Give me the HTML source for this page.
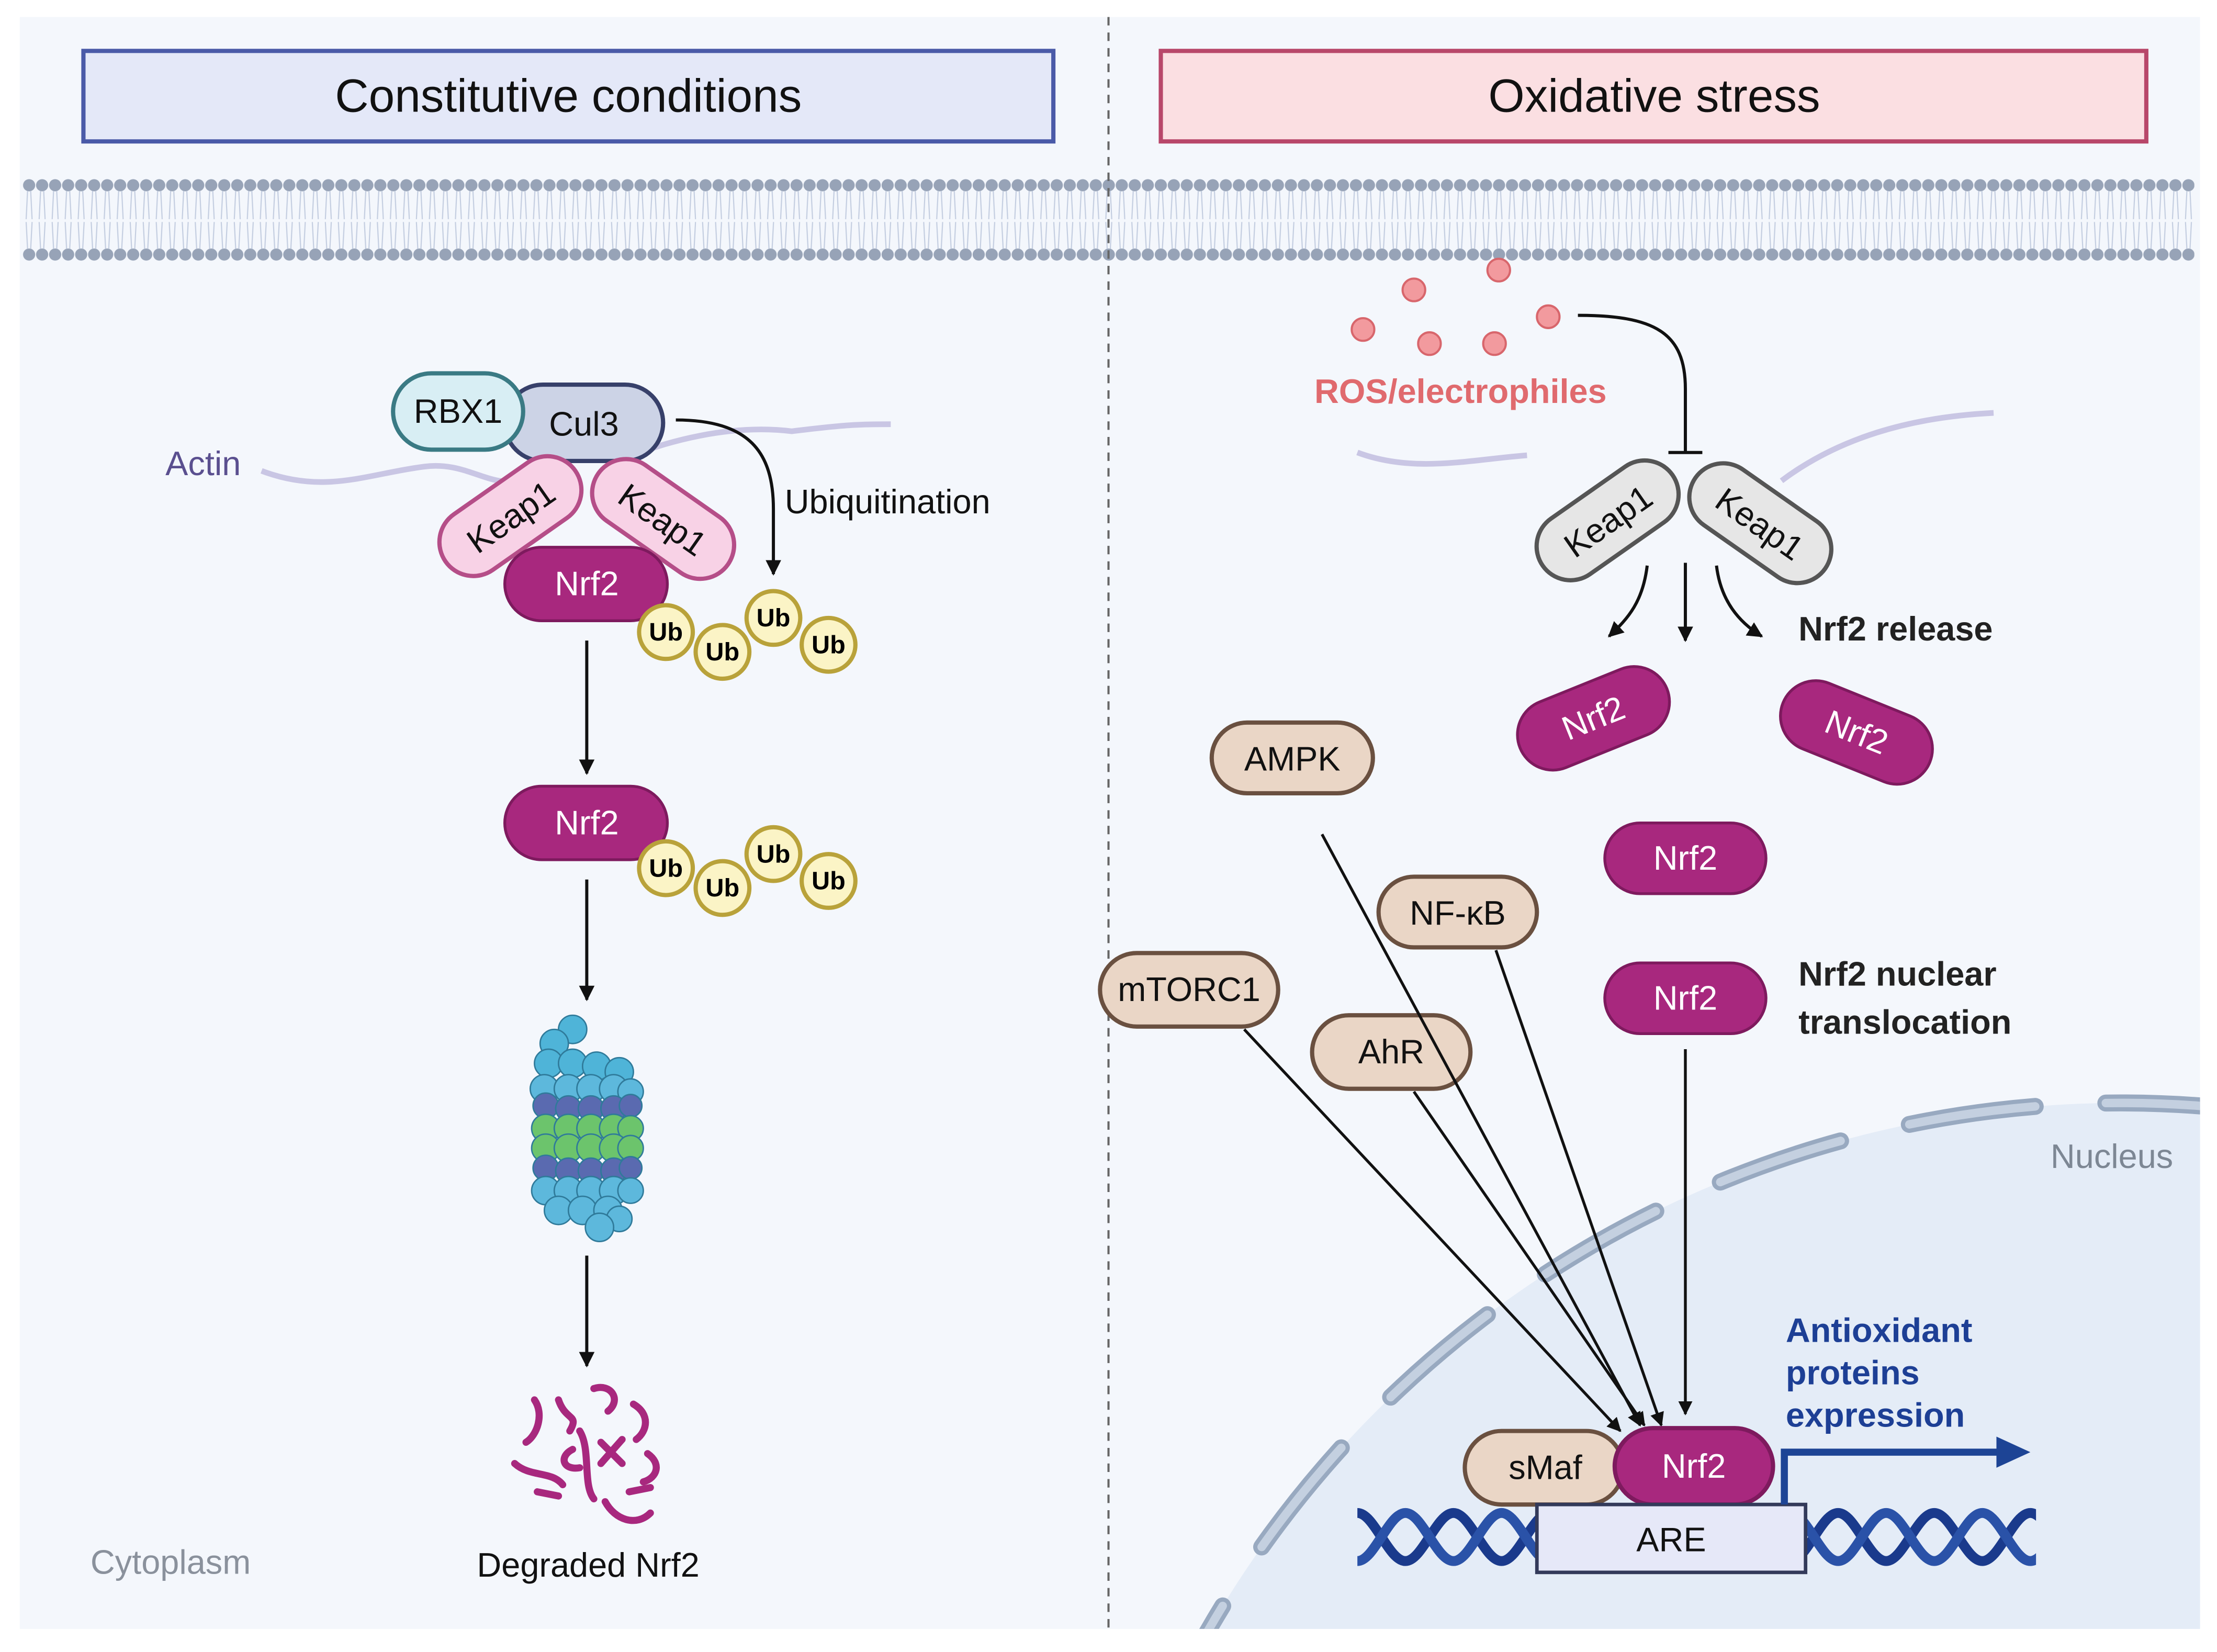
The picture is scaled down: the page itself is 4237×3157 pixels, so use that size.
<!DOCTYPE html>
<html><head><meta charset="utf-8"><style>
html,body{margin:0;padding:0;background:#fff;overflow:hidden;width:4237px;height:3157px}
svg{display:block}
text{font-family:"Liberation Sans",sans-serif}
</style></head><body>
<svg width="4237" height="3157" viewBox="0 0 1568 1168.3" xmlns="http://www.w3.org/2000/svg">
<defs>
<marker id="ah" viewBox="0 0 10 10" refX="9" refY="5" markerWidth="5" markerHeight="5" orient="auto-start-reverse"><path d="M0,0 L10,5 L0,10 z" fill="#111"/></marker>
<pattern id="lip" x="16" y="126" width="9.2" height="60" patternUnits="userSpaceOnUse">
<circle cx="4.6" cy="5" r="4.3" fill="#97a3b7"/>
<circle cx="4.6" cy="54" r="4.3" fill="#97a3b7"/>
<path d="M3.5,9 L2.5,29 M5.7,9 L6.7,29 M3.5,50 L2.5,31 M5.7,50 L6.7,31" stroke="#c3cde0" stroke-width="0.8"/>
</pattern>
<clipPath id="nclip"><rect x="14" y="12" width="1542" height="1140"/></clipPath>
<clipPath id="dclip"><rect x="960" y="1050" width="480" height="80"/></clipPath>
</defs>
<rect width="1568" height="1168.3" fill="#fff"/>
<rect x="14" y="12" width="1542" height="1140" fill="#f4f7fc"/>
<g clip-path="url(#nclip)">
<circle cx="1500" cy="1525" r="745" fill="#e4ecf7"/>
<circle cx="1500" cy="1525" r="745" fill="none" stroke="#98a9c0" stroke-width="12" stroke-linecap="round" stroke-dasharray="90,50"/>
<circle cx="1500" cy="1525" r="745" fill="none" stroke="#c4d0e0" stroke-width="6" stroke-linecap="round" stroke-dasharray="90,50"/>
</g>
<rect x="16" y="126" width="1536" height="60" fill="url(#lip)"/>
<line x1="784" y1="12" x2="784" y2="1152" stroke="#666" stroke-width="1.5" stroke-dasharray="6,5"/>
<rect x="59" y="36" width="686" height="64" fill="#e4e8f8" stroke="#4a5aa8" stroke-width="3"/>
<text x="402" y="79" font-size="33" text-anchor="middle" fill="#111">Constitutive conditions</text>
<rect x="821" y="36" width="697" height="64" fill="#fbdfe2" stroke="#b8476a" stroke-width="3"/>
<text x="1170" y="79" font-size="33" text-anchor="middle" fill="#111">Oxidative stress</text>

<path d="M185,333 C230,350 260,335 300,330 C330,326 345,345 370,340 M430,330 C470,310 520,300 560,305 C600,300 610,300 630,300" fill="none" stroke="#c9c6e4" stroke-width="4"/>
<text x="117" y="336" font-size="24" fill="#5a4f8f">Actin</text>
<rect x="357" y="272" width="112" height="54" rx="27" fill="#ccd3e6" stroke="#37406a" stroke-width="3"/>
<text x="413" y="308" font-size="24" text-anchor="middle" fill="#111">Cul3</text>
<rect x="278" y="264" width="92" height="54" rx="27" fill="#d8eef4" stroke="#3a7a84" stroke-width="3"/>
<text x="324" y="299" font-size="24" text-anchor="middle" fill="#111">RBX1</text>
<g transform="translate(361,365) rotate(-35)"><rect x="-56" y="-24" width="112" height="48" rx="24" fill="#f8d2e6" stroke="#b54e88" stroke-width="3"/><text x="0" y="9" font-size="24" text-anchor="middle" fill="#111">Keap1</text></g>
<g transform="translate(469,367) rotate(35)"><rect x="-56" y="-24" width="112" height="48" rx="24" fill="#f8d2e6" stroke="#b54e88" stroke-width="3"/><text x="0" y="9" font-size="24" text-anchor="middle" fill="#111">Keap1</text></g>
<rect x="357" y="387" width="115" height="52" rx="26" fill="#a8287e" stroke="#7e1a5e" stroke-width="2"/>
<text x="415" y="421" font-size="24" text-anchor="middle" fill="#fff">Nrf2</text>
<path d="M478,297 C530,297 547,320 547,360 L547,406" fill="none" stroke="#111" stroke-width="2.2" marker-end="url(#ah)"/>
<text x="555" y="363" font-size="24" fill="#111">Ubiquitination</text>
<g id="ub" font-size="18" font-weight="bold" text-anchor="middle">
<g fill="#fbf4c6" stroke="#b9a23a" stroke-width="3">
<circle cx="471" cy="447" r="19"/><circle cx="511" cy="461" r="19"/><circle cx="547" cy="437" r="19"/><circle cx="586" cy="456" r="19"/>
</g>
<text x="471" y="453">Ub</text><text x="511" y="467">Ub</text><text x="547" y="443">Ub</text><text x="586" y="462">Ub</text>
</g>
<line x1="415" y1="453" x2="415" y2="547" stroke="#111" stroke-width="2.2" marker-end="url(#ah)"/>
<rect x="357" y="556" width="115" height="52" rx="26" fill="#a8287e" stroke="#7e1a5e" stroke-width="2"/>
<text x="415" y="590" font-size="24" text-anchor="middle" fill="#fff">Nrf2</text>
<use href="#ub" transform="translate(0,167)"/>
<line x1="415" y1="622" x2="415" y2="707" stroke="#111" stroke-width="2.2" marker-end="url(#ah)"/>
<g stroke="#2f7a9a" stroke-width="1">
<g fill="#4fb4d8"><circle cx="405" cy="728" r="10"/><circle cx="392" cy="738" r="10"/><circle cx="388" cy="752" r="10"/><circle cx="405" cy="752" r="10"/><circle cx="422" cy="754" r="10"/><circle cx="438" cy="758" r="10"/></g>
<g fill="#5db8dc"><circle cx="385" cy="770" r="10"/><circle cx="402" cy="770" r="10"/><circle cx="418" cy="770" r="10"/><circle cx="434" cy="770" r="10"/><circle cx="446" cy="772" r="9"/></g>
<g fill="#5a6ab0"><circle cx="386" cy="782" r="9"/><circle cx="402" cy="784" r="9"/><circle cx="418" cy="784" r="9"/><circle cx="434" cy="784" r="9"/><circle cx="446" cy="782" r="8"/></g>
<g fill="#6cc46c"><circle cx="386" cy="798" r="10"/><circle cx="402" cy="798" r="10"/><circle cx="418" cy="798" r="10"/><circle cx="434" cy="798" r="10"/><circle cx="446" cy="798" r="9"/>
<circle cx="386" cy="812" r="10"/><circle cx="402" cy="812" r="10"/><circle cx="418" cy="812" r="10"/><circle cx="434" cy="812" r="10"/><circle cx="446" cy="812" r="9"/></g>
<g fill="#5a6ab0"><circle cx="386" cy="826" r="9"/><circle cx="402" cy="828" r="9"/><circle cx="418" cy="828" r="9"/><circle cx="434" cy="828" r="9"/><circle cx="446" cy="826" r="8"/></g>
<g fill="#5db8dc"><circle cx="386" cy="842" r="10"/><circle cx="402" cy="842" r="10"/><circle cx="418" cy="842" r="10"/><circle cx="434" cy="842" r="10"/><circle cx="446" cy="842" r="9"/>
<circle cx="395" cy="856" r="10"/><circle cx="412" cy="856" r="10"/><circle cx="430" cy="856" r="10"/><circle cx="438" cy="862" r="9"/><circle cx="424" cy="868" r="10"/></g>
</g>
<line x1="415" y1="888" x2="415" y2="966" stroke="#111" stroke-width="2.2" marker-end="url(#ah)"/>
<g fill="none" stroke="#a8287e" stroke-width="5" stroke-linecap="round">
<path d="M378,990 C385,1000 380,1015 372,1020"/><path d="M395,990 C400,1005 410,1000 403,1012"/><path d="M420,982 C432,978 440,990 430,998"/><path d="M448,993 C460,1000 458,1012 450,1018"/>
<path d="M364,1035 C375,1045 390,1040 398,1050"/><path d="M405,1025 C395,1030 398,1040 410,1038"/><path d="M425,1020 L440,1035 M440,1018 L425,1035"/><path d="M458,1028 C468,1035 465,1045 455,1048"/>
<path d="M380,1055 L395,1058"/><path d="M428,1062 C435,1075 450,1080 460,1070"/><path d="M445,1055 L460,1052"/><path d="M410,1012 C418,1025 412,1050 420,1060"/>
</g>
<text x="416" y="1115" font-size="24" text-anchor="middle" fill="#111">Degraded Nrf2</text>
<text x="64" y="1113" font-size="24" fill="#8a919c">Cytoplasm</text>

<g fill="#f29a9e" stroke="#d8666c" stroke-width="1.5">
<circle cx="1060" cy="191" r="8"/><circle cx="1000" cy="205" r="8"/><circle cx="1095" cy="224" r="8"/><circle cx="964" cy="233" r="8"/><circle cx="1011" cy="243" r="8"/><circle cx="1057" cy="243" r="8"/>
</g>
<text x="1033" y="285" font-size="24" font-weight="bold" text-anchor="middle" fill="#e06a6e">ROS/electrophiles</text>
<path d="M1116,223 C1170,223 1192,235 1192,275 L1192,320" fill="none" stroke="#111" stroke-width="2.2"/>
<line x1="1180" y1="320" x2="1204" y2="320" stroke="#111" stroke-width="2.2"/>
<path d="M960,320 C1000,335 1040,325 1080,322 M1260,340 C1300,310 1350,295 1410,292" fill="none" stroke="#c9c6e4" stroke-width="4"/>
<g transform="translate(1137,368) rotate(-35)"><rect x="-56" y="-24" width="112" height="48" rx="24" fill="#e6e6e6" stroke="#555" stroke-width="3"/><text x="0" y="9" font-size="24" text-anchor="middle" fill="#111">Keap1</text></g>
<g transform="translate(1245,370) rotate(35)"><rect x="-56" y="-24" width="112" height="48" rx="24" fill="#e6e6e6" stroke="#555" stroke-width="3"/><text x="0" y="9" font-size="24" text-anchor="middle" fill="#111">Keap1</text></g>
<path d="M1165,400 C1162,425 1152,437 1138,450" fill="none" stroke="#111" stroke-width="2.2" marker-end="url(#ah)"/>
<line x1="1192" y1="398" x2="1192" y2="453" stroke="#111" stroke-width="2.2" marker-end="url(#ah)"/>
<path d="M1214,400 C1217,425 1230,440 1246,450" fill="none" stroke="#111" stroke-width="2.2" marker-end="url(#ah)"/>
<text x="1272" y="453" font-size="24" font-weight="bold" fill="#222">Nrf2 release</text>
<g transform="translate(1127,508) rotate(-22)"><rect x="-56" y="-25" width="112" height="50" rx="25" fill="#a8287e" stroke="#7e1a5e" stroke-width="2"/><text x="0" y="8" font-size="24" text-anchor="middle" fill="#fff">Nrf2</text></g>
<g transform="translate(1313,518) rotate(22)"><rect x="-56" y="-25" width="112" height="50" rx="25" fill="#a8287e" stroke="#7e1a5e" stroke-width="2"/><text x="0" y="8" font-size="24" text-anchor="middle" fill="#fff">Nrf2</text></g>
<rect x="1135" y="582" width="114" height="50" rx="25" fill="#a8287e" stroke="#7e1a5e" stroke-width="2"/>
<text x="1192" y="615" font-size="24" text-anchor="middle" fill="#fff">Nrf2</text>
<rect x="1135" y="681" width="114" height="50" rx="25" fill="#a8287e" stroke="#7e1a5e" stroke-width="2"/>
<text x="1192" y="714" font-size="24" text-anchor="middle" fill="#fff">Nrf2</text>
<text x="1272" y="697" font-size="24" font-weight="bold" fill="#222">Nrf2 nuclear</text>
<text x="1272" y="731" font-size="24" font-weight="bold" fill="#222">translocation</text>
<text x="1537" y="826" font-size="24" text-anchor="end" fill="#7d8794">Nucleus</text>
<g stroke="#6a5040" stroke-width="3" fill="#ead6c6">
<rect x="857" y="511" width="114" height="50" rx="25"/>
<rect x="975" y="620" width="112" height="50" rx="25"/>
<rect x="778" y="674" width="126" height="52" rx="26"/>
<rect x="928" y="718" width="112" height="52" rx="26"/>
</g>
<g font-size="24" text-anchor="middle" fill="#111">
<text x="914" y="545">AMPK</text><text x="1031" y="654">NF-κB</text><text x="841" y="708">mTORC1</text><text x="984" y="752">AhR</text>
</g>
<g stroke="#111" stroke-width="2" fill="none" marker-end="url(#ah)">
<line x1="935" y1="590" x2="1160" y2="1008"/>
<line x1="1058" y1="672" x2="1175" y2="1008"/>
<line x1="880" y1="728" x2="1146" y2="1012"/>
<line x1="1000" y1="772" x2="1163" y2="1008"/>
<line x1="1192" y1="742" x2="1192" y2="1000"/>
</g>
<g fill="none" stroke-width="7" clip-path="url(#dclip)">
<path d="M960,1070 c12,0 22,34 34,34 c12,0 22,-34 34,-34 c12,0 22,34 34,34 c12,0 22,-34 34,-34 c12,0 22,34 34,34 c12,0 22,-34 34,-34 c12,0 22,34 34,34 c12,0 22,-34 34,-34 c12,0 22,34 34,34 c12,0 22,-34 34,-34 c12,0 22,34 34,34 c12,0 22,-34 34,-34 c12,0 22,34 34,34 c12,0 22,-34 34,-34 c12,0 22,34 34,34" stroke="#1a3a8c"/>
<path d="M960,1104 c12,0 22,-34 34,-34 c12,0 22,34 34,34 c12,0 22,-34 34,-34 c12,0 22,34 34,34 c12,0 22,-34 34,-34 c12,0 22,34 34,34 c12,0 22,-34 34,-34 c12,0 22,34 34,34 c12,0 22,-34 34,-34 c12,0 22,34 34,34 c12,0 22,-34 34,-34 c12,0 22,34 34,34 c12,0 22,-34 34,-34 c12,0 22,34 34,34 c12,0 22,-34 34,-34" stroke="#2a52a8"/>
</g>
<rect x="1036" y="1012" width="112" height="52" rx="26" fill="#ead6c6" stroke="#6a5040" stroke-width="3"/>
<text x="1093" y="1046" font-size="24" text-anchor="middle" fill="#111">sMaf</text>
<rect x="1142" y="1010" width="112" height="54" rx="27" fill="#a8287e" stroke="#7e1a5e" stroke-width="3"/>
<text x="1198" y="1045" font-size="24" text-anchor="middle" fill="#fff">Nrf2</text>
<rect x="1087" y="1064" width="190" height="48" fill="#e6e8f8" stroke="#333a5a" stroke-width="2.5"/>
<text x="1182" y="1097" font-size="24" text-anchor="middle" fill="#111">ARE</text>
<path d="M1262,1064 L1262,1027 L1415,1027" fill="none" stroke="#1d4495" stroke-width="5"/>
<path d="M1412,1016 L1436,1027 L1412,1038 z" fill="#1d4495"/>
<g font-size="24" font-weight="bold" fill="#1d3f95">
<text x="1263" y="949">Antioxidant</text><text x="1263" y="979">proteins</text><text x="1263" y="1009">expression</text>
</g>
</svg>
</body></html>
